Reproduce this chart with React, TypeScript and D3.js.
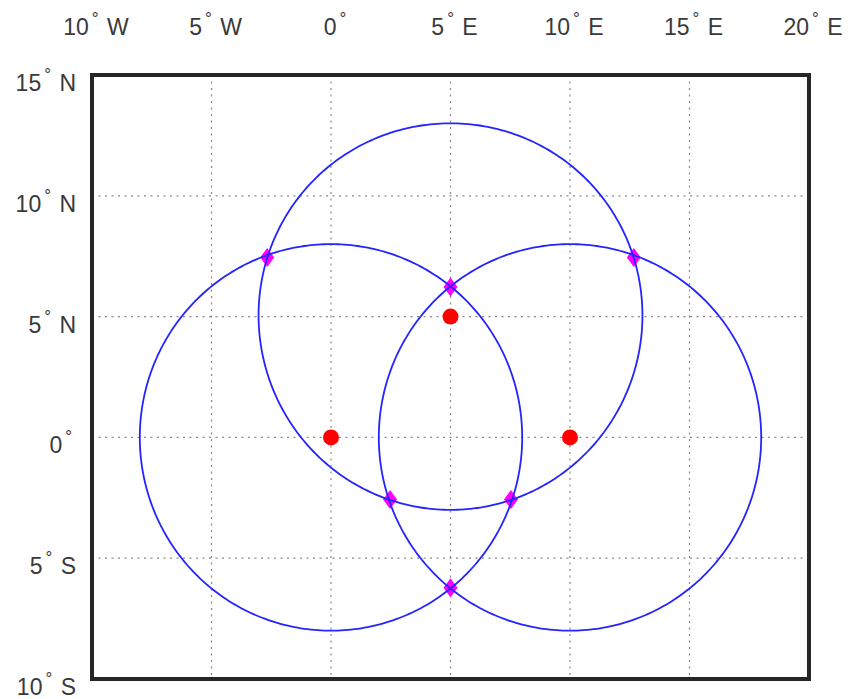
import { useEffect, useRef } from "react";
import * as d3 from "d3";

const lonTicks = [-10, -5, 0, 5, 10, 15, 20];
const latTicks = [-10, -5, 0, 5, 10, 15];

// circle centres (deg) and radii (deg)
const centerLon = [0, 10, 5];
const centerLat = [0, 0, 5];
const radiusDeg = [8, 8, 8];

// intersection points
const crossLon = [-2.67, 5, 12.67, 2.47, 7.53, 5];
const crossLat = [7.45, 6.22, 7.45, -2.57, -2.57, -6.22];

const W = 849;
const H = 699;

const lonLabel = (d: number) => (d === 0 ? ["0", ""] : [String(Math.abs(d)), d < 0 ? " W" : " E"]);
const latLabel = (d: number) => (d === 0 ? ["0", ""] : [String(Math.abs(d)), d < 0 ? " S" : " N"]);

const App = () => {
  const ref = useRef<SVGSVGElement>(null);

  useEffect(() => {
    document.body.style.margin = "0";
    const svg = d3.select(ref.current);
    svg.selectAll("*").remove();

    const x = d3.scaleLinear().domain([-10, 20]).range([92, 809]);
    const y = d3.scaleLinear().domain([-10, 15]).range([679, 75]);

    const font = "'Liberation Sans', Arial, sans-serif";

    // grid
    const grid = svg.append("g").attr("stroke", "#8a8a8a").attr("stroke-width", 1.2).attr("stroke-dasharray", "2 4.5");
    grid
      .selectAll("line.v")
      .data(lonTicks.slice(1, -1))
      .join("line")
      .attr("x1", (d) => x(d))
      .attr("x2", (d) => x(d))
      .attr("y1", y(15))
      .attr("y2", y(-10));
    grid
      .selectAll("line.h")
      .data(latTicks.slice(1, -1))
      .join("line")
      .attr("x1", x(-10))
      .attr("x2", x(20))
      .attr("y1", (d) => y(d))
      .attr("y2", (d) => y(d));

    // centres
    svg
      .append("g")
      .selectAll("circle")
      .data(centerLon.map((d, i) => [d, centerLat[i]]))
      .join("circle")
      .attr("cx", (d) => x(d[0]))
      .attr("cy", (d) => y(d[1]))
      .attr("r", 8)
      .attr("fill", "#ff0000");

    // intersection diamonds
    svg
      .append("g")
      .selectAll("path")
      .data(crossLon.map((d, i) => [d, crossLat[i]]))
      .join("path")
      .attr("transform", (d) => `translate(${x(d[0])},${y(d[1])})`)
      .attr("d", "M0,-9.5L7,0L0,9.5L-7,0Z")
      .attr("fill", "#ff00ff");

    // small circles
    const line = d3
      .line<number[]>()
      .x((d) => x(d[0]))
      .y((d) => y(d[1]));
    svg
      .append("g")
      .selectAll("path")
      .data(centerLon.map((d, i) => d3.geoCircle().center([d, centerLat[i]]).radius(radiusDeg[i]).precision(1)().coordinates[0]))
      .join("path")
      .attr("d", (d) => line(d) + "Z")
      .attr("fill", "none")
      .attr("stroke", "#2424ff")
      .attr("stroke-width", 1.8);

    // frame
    svg
      .append("rect")
      .attr("x", x(-10))
      .attr("y", y(15))
      .attr("width", x(20) - x(-10))
      .attr("height", y(-10) - y(15))
      .attr("fill", "none")
      .attr("stroke", "#262626")
      .attr("stroke-width", 4);

    // top labels
    const top = svg
      .append("g")
      .selectAll("text")
      .data(lonTicks)
      .join("text")
      .attr("x", (d) => x(d) + 4)
      .attr("y", 35)
      .attr("text-anchor", "middle")
      .attr("font-family", font)
      .attr("font-size", 23)
      .attr("fill", "#3a3a3a");
    top.append("tspan").text((d) => lonLabel(d)[0]);
    top.append("tspan").attr("font-size", 17).attr("dy", -11).attr("dx", 3).text("°");
    top.append("tspan").attr("dy", 11).attr("dx", 2).text((d) => lonLabel(d)[1]);

    // left labels
    const left = svg
      .append("g")
      .selectAll("text")
      .data(latTicks)
      .join("text")
      .attr("x", (d) => (d === 0 ? 72 : 76))
      .attr("y", (d) => y(d) + 16)
      .attr("text-anchor", "end")
      .attr("font-family", font)
      .attr("font-size", 23)
      .attr("fill", "#3a3a3a");
    left.append("tspan").text((d) => latLabel(d)[0]);
    left.append("tspan").attr("font-size", 17).attr("dy", -11).attr("dx", 3).text("°");
    left.append("tspan").attr("dy", 11).attr("dx", 2).text((d) => latLabel(d)[1]);
  }, []);

  return <svg ref={ref} width={W} height={H} style={{ display: "block", background: "#fff" }} />;
};

export default App;
